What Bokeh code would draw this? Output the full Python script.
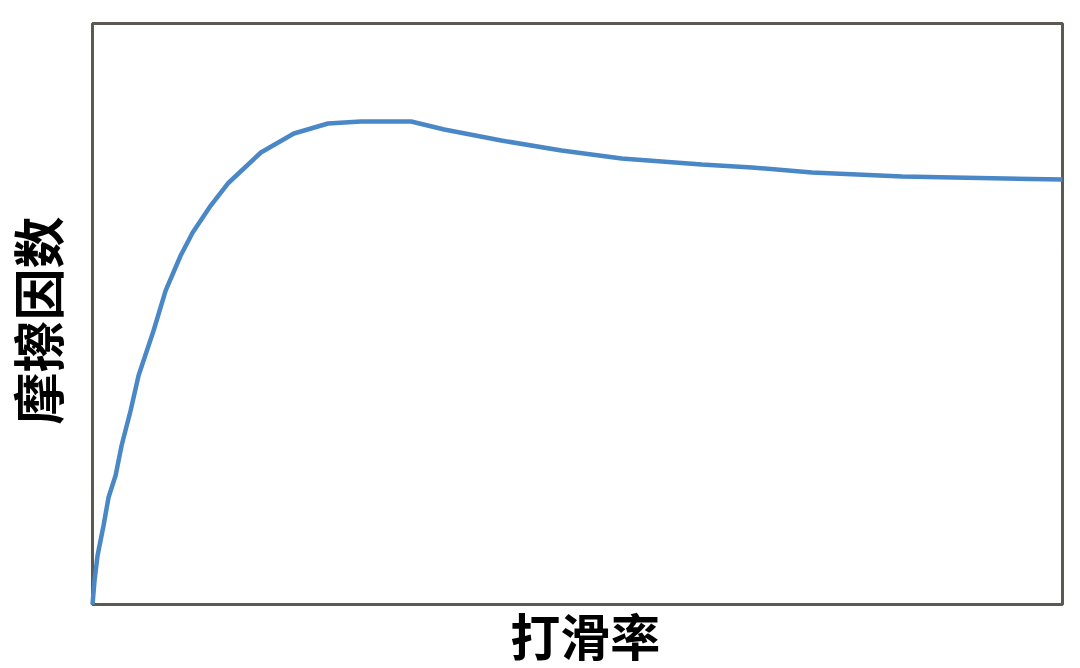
# Friction coefficient vs slip ratio curve, drawn with Bokeh.
import math
from bokeh.plotting import figure
from bokeh.models import Range1d
from bokeh.core.properties import value
from bokeh.embed import file_html
from bokeh.resources import INLINE

# values (both axes on an arbitrary 0-100 scale)
slip = [0, 0.21, 0.52, 1.14, 1.65, 2.38, 3.0, 3.93, 4.75, 6.3, 7.54, 9.09,
        10.33, 12.19, 13.95, 17.36, 20.76, 24.28, 27.69, 32.85, 36.26, 42.15,
        48.35, 54.55, 62.81, 67.98, 74.17, 83.47, 100]
friction = [0, 4.13, 8.43, 13.6, 18.42, 22.2, 27.37, 33.39, 39.41, 47.16,
            54.04, 60.07, 64.03, 68.67, 72.46, 77.8, 81.07, 82.79, 83.13,
            83.13, 81.76, 79.86, 78.14, 76.76, 75.73, 75.22, 74.35, 73.67,
            73.15]

X_LABEL = "打滑率"
Y_LABEL = "摩擦因数"
FONT = "Noto Sans CJK SC"

# the whole canvas is the plotting area, the 0-100 box is drawn as the frame
p = figure(width=1080, height=668, output_backend="svg", toolbar_location=None,
           x_axis_location=None, y_axis_location=None,
           x_range=Range1d(-9.485, 101.856), y_range=Range1d(-11.015, 103.96))
p.min_border = 0
p.outline_line_color = None
p.grid.visible = False
p.background_fill_color = "white"
p.border_fill_color = "white"

# frame
p.quad(left=[0], right=[100], bottom=[0], top=[100], fill_color=None,
       line_color="#5c5853", line_width=3)

p.line(slip, friction, line_color="#4a87c7", line_width=4.5)

# axis titles
p.text(x=[50.8], y=[-5.16], text=[X_LABEL], text_font=value(FONT),
       text_font_style="bold", text_font_size="50px", text_align="center",
       text_baseline="middle", text_color="black")
p.text(x=[-5.77], y=[48.9], text=[Y_LABEL], text_font=value(FONT),
       text_font_style="bold", text_font_size="52px", text_align="center",
       text_baseline="middle", angle=math.pi / 2, text_color="black")

open("out.html", "w").write(file_html(p, INLINE))
